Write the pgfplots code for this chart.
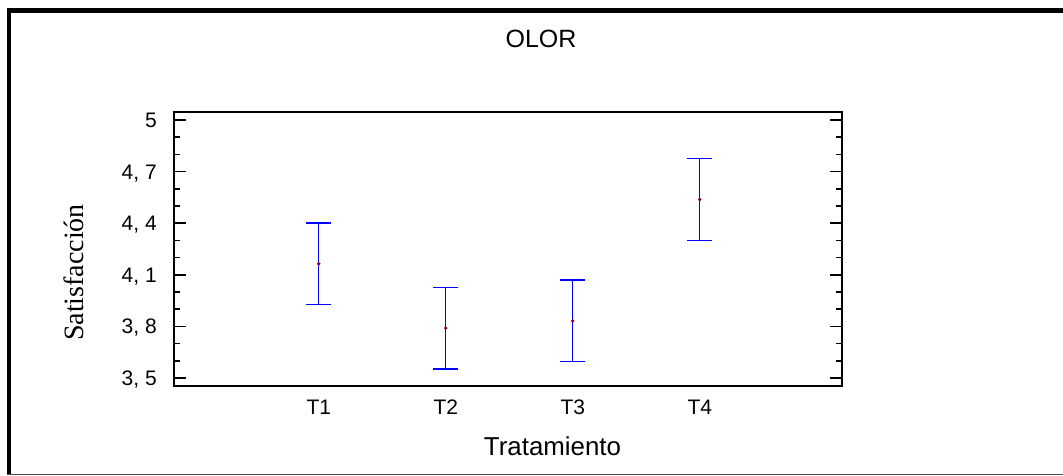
\documentclass[border=0pt]{standalone}
\usepackage{pgfplots}
\pgfplotsset{compat=1.18}
\usepackage{fontspec}
\setmainfont{Liberation Sans}
\newfontfamily\serifff{Liberation Serif}
\definecolor{barblue}{RGB}{0,0,255}
\definecolor{dotcol}{RGB}{128,0,64}
\begin{document}
\begin{tikzpicture}
\path[use as bounding box] (0,0) rectangle (797.25pt,356.25pt);
\begin{scope}[x=0.75pt,y=-0.75pt,shift={(0pt,356.25pt)}]
  \fill[black] (7,8) rectangle (1063,13);
  \fill[black] (7,8) rectangle (11,475);
  \draw[line width=0.75pt, black!70] (7,474.4) -- (1063,474.4);
  \node[font=\fontsize{18.75}{22}\selectfont, inner sep=0pt] at (541,39) {OLOR};
  \node[font=\fontsize{19.4}{23}\selectfont, inner sep=0pt, anchor=base] at (552.5,455) {Tratamiento};
  \node[font=\serifff\fontsize{21}{25}\selectfont, inner sep=0pt, anchor=base, rotate=90] at (83.3,272.5) {Satisfacción};
\end{scope}
\begin{axis}[
  at={(130.5pt,66.75pt)}, anchor=south west,
  scale only axis, width=501pt, height=205.5pt,
  xmin=-0.14, xmax=5.12,
  ymin=3.4535, ymax=5.0465,
  xtick={1,2,3,4}, xticklabels={T1,T2,T3,T4},
  xtick style={draw=none},
  ytick={3.5,3.8,4.1,4.4,4.7,5},
  yticklabels={{3, 5},{3, 8},{4, 1},{4, 4},{4, 7},{5}},
  minor y tick num=2,
  ytick pos=both, tick align=inside,
  major tick length=9pt, minor tick length=4.5pt,
  ytick style={line width=1.1pt, black},
  axis line style={line width=1.1pt},
  ticklabel style={font=\fontsize{15.75}{18}\selectfont},
  yticklabel style={inner sep=0pt, anchor=base east, xshift=-12.75pt, yshift=-5.6pt},
  xticklabel style={inner sep=0pt, anchor=north, yshift=-10.5pt},
  clip=false,
]
\addplot[only marks, draw=barblue, mark=*, mark size=1.1pt,
  mark options={draw=dotcol, fill=dotcol},
  error bars/.cd, y dir=both, y explicit,
  error bar style={barblue, line width=1.05pt},
  error mark options={rotate=90, mark size=9.4pt, barblue, line width=1.05pt}]
  coordinates {
    (1,4.164) +- (0,0.237)
    (2,3.790) +- (0,0.237)
    (3,3.832) +- (0,0.237)
    (4,4.538) +- (0,0.237)
  };
\end{axis}
\end{tikzpicture}
\end{document}
